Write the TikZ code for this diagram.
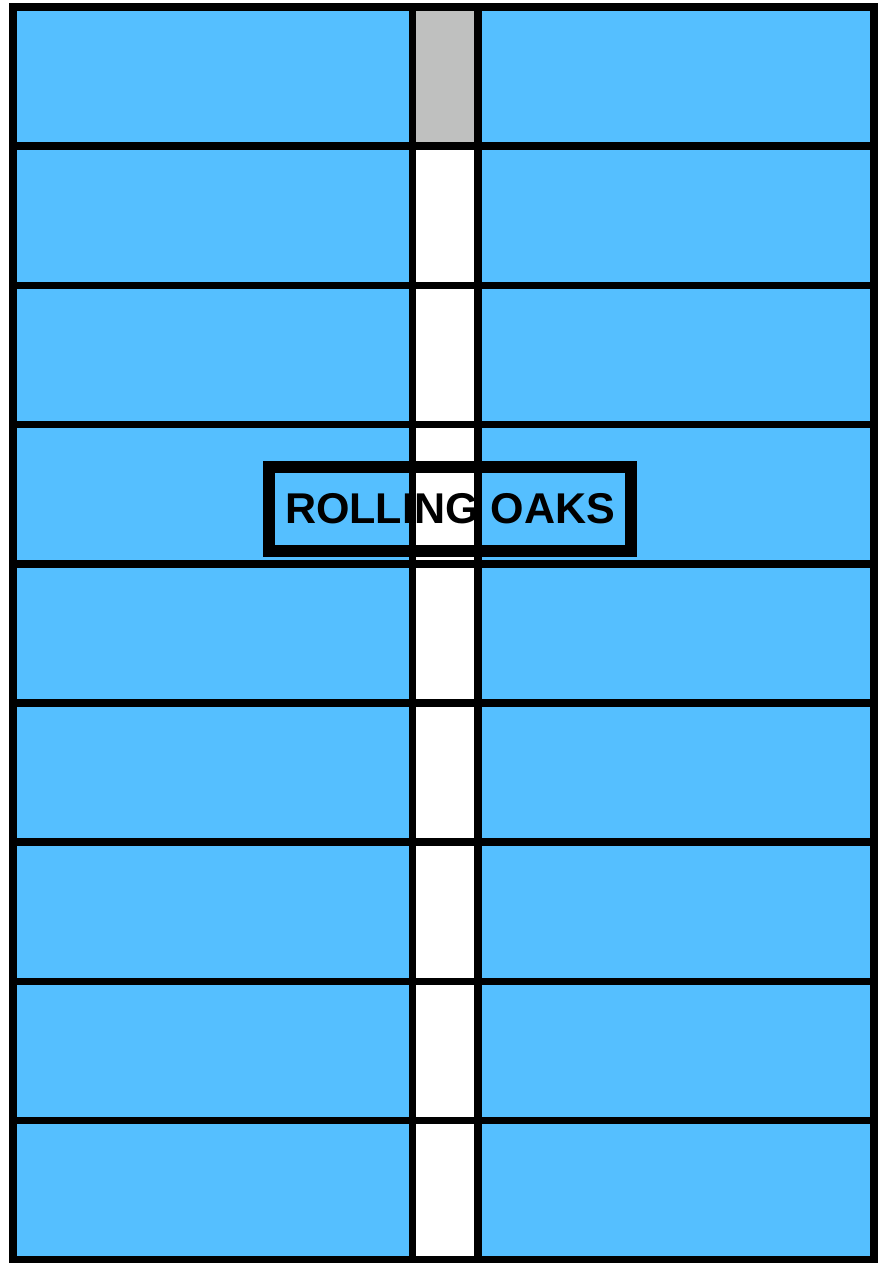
\documentclass[tikz,border=0pt]{standalone}
\usepackage{fontspec}
\setmainfont{Liberation Sans}
\usetikzlibrary{positioning}
\definecolor{lotBlue}{RGB}{85,191,255}
\definecolor{roadGray}{RGB}{191,192,191}

\begin{document}
\begin{tikzpicture}[
  x=0.02cm, y=-0.02cm,
  plotline/.style={draw=black, line width=4.4pt},
  signbox/.style={draw=black, line width=6.8pt, minimum width=7.24cm,
    minimum height=1.68cm, inner sep=0pt,
    font=\fontsize{24.5}{27}\selectfont\bfseries}
]
  \useasboundingbox (0,0) rectangle (885,1263);

  % lots and the road between them
  \fill[lotBlue] (13,7) rectangle (874,1260);
  \fill[white] (412.5,7) rectangle (478,1260);
  \fill[roadGray] (412.5,7) rectangle (478,146);

  % lot boundaries
  \foreach \r in {1,...,8}
    \draw[plotline] (13,{7+139.2*\r}) -- (874,{7+139.2*\r});
  \draw[plotline] (412.5,7) -- (412.5,1260);
  \draw[plotline] (478,7) -- (478,1260);
  \draw[plotline] (13,7) rectangle (874,1260);

  % name sign
  \node[signbox] (sign) at (450,509) {ROLLING OAKS};
\end{tikzpicture}
\end{document}
